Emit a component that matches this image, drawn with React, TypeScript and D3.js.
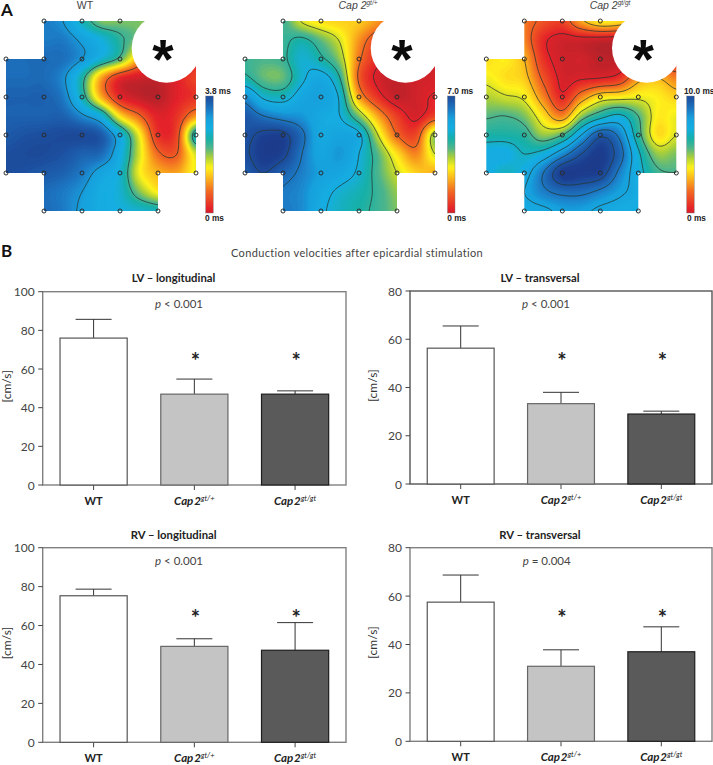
import React, { useMemo } from "react";
import * as d3 from "d3";

// ---- Data: activation maps, sampled at half electrode spacing (0 = earliest, 100 = latest)
const mapWT = [
  [88,88,85,80,65,52,52,52,52,52,52],
  [88,88,85,85,78,70,60,50,30,20,15],
  [88,88,88,87,80,68,55,30,10,8,10],
  [88,88,88,82,62,30,10,5,3,8,15],
  [90,90,90,85,64,32,10,3,1,8,12],
  [90,90,90,90,82,70,38,22,8,12,28],
  [92,94,95,96,96,92,72,42,12,16,65],
  [95,96,96,94,90,88,72,45,22,20,45],
  [95,94,92,90,85,76,68,42,32,30,42],
  [92,90,88,85,80,72,68,52,40,38,42],
  [90,90,88,85,78,72,70,68,65,60,55],
];
const mapHet = [
  [60,60,58,44,38,36,35,28,20,15,12],
  [58,58,58,62,54,44,28,15,8,6,6],
  [58,56,58,68,62,50,24,10,5,5,6],
  [62,54,54,68,74,60,20,6,3,5,6],
  [82,68,66,75,78,68,30,12,3,5,9],
  [92,86,82,80,74,70,52,30,14,6,15],
  [94,98,98,88,74,76,72,45,22,16,50],
  [95,100,98,86,76,80,70,55,38,26,45],
  [92,96,90,84,78,75,68,56,45,36,32],
  [90,88,85,82,74,68,64,58,50,44,40],
  [88,86,85,82,72,66,62,58,52,48,44],
];
const mapHom = [
  [40,38,25,18,15,30,40,38,30,20,15],
  [40,38,26,10,5,5,4,3,3,5,8],
  [38,40,32,12,5,5,2,2,3,10,10],
  [42,38,35,18,6,7,8,12,28,32,25],
  [48,45,42,26,10,26,38,40,42,40,36],
  [55,56,52,38,26,50,62,68,56,40,42],
  [62,62,60,50,56,76,92,84,60,38,44],
  [72,72,66,70,82,94,100,90,68,50,52],
  [72,66,72,86,100,100,98,84,70,58,56],
  [72,70,76,84,88,88,84,78,72,62,60],
  [70,70,72,74,78,78,74,72,70,64,62],
];
const levelsWT = [20, 58, 80];
const levelsHet = [8, 22, 45, 60, 70, 86, 96];
const levelsHom = [8, 20, 32, 44, 56, 66, 76, 86, 94];

const colorDomain = [0, 8, 22, 32, 40, 48, 55, 62, 70, 78, 84, 90, 100];
const colorRange = ["#b5222b","#e4202a","#f26a22","#fbb81c","#fff21a","#a9cf3a","#4fb58a","#17b0a8","#12aee2","#18a0dc","#1c7cc6","#1c5fae","#1f3a8a"];

// ---- Data: bar charts
const groups = ["WT", "het", "hom"];
const lvLongMean = [76, 47, 47];
const lvLongTop = [85.7, 54.8, 48.7];
const lvTransMean = [56.3, 33.3, 29];
const lvTransTop = [65.5, 38, 30.2];
const rvLongMean = [75.3, 49.3, 47.3];
const rvLongTop = [78.7, 53.2, 61.5];
const rvTransMean = [57.5, 31, 37];
const rvTransTop = [68.7, 37.8, 47.3];
const sigGroups = ["het", "hom"];

const FONT = "Lato, 'Open Sans', sans-serif";
const ARIAL = "'Liberation Sans', Arial, sans-serif";
const color = d3.scaleLinear<string>().domain(colorDomain).range(colorRange).interpolate(d3.interpolateRgb);

function upsample(grid: number[][], f: number) {
  const n = grid.length, m = grid[0].length;
  const W = (m - 1) * f + 1, H = (n - 1) * f + 1;
  const out = new Array(W * H);
  const cr = (p0: number, p1: number, p2: number, p3: number, t: number) =>
    0.5 * (2 * p1 + (p2 - p0) * t + (2 * p0 - 5 * p1 + 4 * p2 - p3) * t * t + (3 * p1 - p0 - 3 * p2 + p3) * t * t * t);
  const at = (r: number, c: number) => grid[Math.max(0, Math.min(n - 1, r))][Math.max(0, Math.min(m - 1, c))];
  for (let j = 0; j < H; j++) {
    const rf = j / f, r = Math.min(n - 2, Math.floor(rf)), tr = rf - r;
    for (let i = 0; i < W; i++) {
      const cf = i / f, c = Math.min(m - 2, Math.floor(cf)), tc = cf - c;
      const rows = [-1, 0, 1, 2].map((d) => cr(at(r + d, c - 1), at(r + d, c), at(r + d, c + 1), at(r + d, c + 2), tc));
      out[j * W + i] = Math.max(0, Math.min(100, cr(rows[0], rows[1], rows[2], rows[3], tr)));
    }
  }
  return { values: out, W, H };
}

const TOPS = [21, 59, 97, 135, 173, 211];
const electrodeRows: [number, number[]][] = [
  [0, [1, 2, 3]],
  [1, [0, 1, 2, 3]],
  [2, [0, 1, 2, 3, 4, 5]],
  [3, [0, 1, 2, 3, 4, 5]],
  [4, [0, 1, 2, 3, 4, 5]],
  [5, [1, 2, 3, 4]],
];

function HeatMap({ id, x0, grid, levels, barX, maxLabel, maxLabelX, zeroX }: any) {
  const f = 8;
  const { values, W, H } = useMemo(() => upsample(grid, f), [grid]);
  const sx = d3.scaleLinear().domain([0, W - 1]).range([x0, x0 + 190]);
  const sy = d3.scaleLinear().domain([0, H - 1]).range([21, 211]);
  const path = d3.geoPath(
    d3.geoTransform({
      point(this: any, a: number, b: number) {
        this.stream.point(sx(a - 0.5), sy(b - 0.5));
      },
    })
  );
  const fills = useMemo(
    () => d3.contours().size([W, H]).smooth(true).thresholds(d3.range(0, 100.5, 1))(values),
    [values]
  );
  const lines = useMemo(() => d3.contours().size([W, H]).smooth(true).thresholds(levels)(values), [values]);
  const cross = [
    [38, 0], [152, 0], [152, 38], [190, 38], [190, 152], [152, 152], [152, 190], [38, 190], [38, 152], [0, 152], [0, 38], [38, 38],
  ].map(([a, b]) => `${x0 + a},${21 + b}`).join(" ");
  const stops = d3.range(95, 4, -2);
  const barOffset = d3.scaleLinear().domain([95, 5]).range([0, 1]);
  return (
    <g>
      <defs>
        <clipPath id={`clip-${id}`}><polygon points={cross} /></clipPath>
        <linearGradient id={`bar-${id}`} x1="0" y1="0" x2="0" y2="1">
          {stops.map((s) => (
            <stop key={s} offset={barOffset(s)} stopColor={color(s)} />
          ))}
        </linearGradient>
      </defs>
      <g clipPath={`url(#clip-${id})`}>
        <g filter="url(#soft)">
          <rect x={x0} y={21} width={190} height={190} fill={color(0)} />
          {fills.map((c, i) => (
            <path key={i} d={path(c) || ""} fill={color(c.value)} />
          ))}
          {lines.map((c, i) => (
            <path key={i} d={path(c) || ""} fill="none" stroke="#25362f" strokeWidth={0.9} strokeOpacity={0.85} />
          ))}
        </g>
      </g>
      <circle cx={x0 + 160.4} cy={48} r={34.7} fill="#fff" />
      <text x={x0 + 157} y={78} textAnchor="middle" fontFamily={ARIAL} fontWeight={700} fontSize={55} fill="#0b0b0b">*</text>
      {electrodeRows.map(([r, cols]) =>
        cols.map((c) => (
          <circle key={`${r}-${c}`} cx={x0 + c * 38} cy={TOPS[r]} r={2} fill="none" stroke="#2b2b2b" strokeWidth={1} />
        ))
      )}
      <rect x={barX} y={96} width={7.5} height={117} fill={`url(#bar-${id})`} stroke="#777" strokeWidth={0.4} />
      <text x={maxLabelX} y={93.5} fontFamily={ARIAL} fontWeight={700} fontSize={8.3} fill="#222">{maxLabel}</text>
      <text x={zeroX} y={221} fontFamily={ARIAL} fontWeight={700} fontSize={8.3} fill="#222">0 ms</text>
    </g>
  );
}

function GroupLabel({ g, x, y }: { g: string; x: number; y: number }) {
  if (g === "WT")
    return <text x={x} y={y} textAnchor="middle" fontFamily={FONT} fontWeight={700} fontSize={11} fill="#222">WT</text>;
  return (
    <text x={x} y={y} textAnchor="middle" fontFamily={FONT} fontStyle="italic" fontWeight={700} fontSize={11.5} fill="#222">
      Cap<tspan dx={0.8}>2</tspan>
      <tspan fontSize={7.5} dy={-4} fontWeight={400}>{g === "het" ? "gt/+" : "gt/gt"}</tspan>
    </text>
  );
}

function BarPanel({ left, right, top, bottom, max, mean, upper, title, pText, pVal, titleX, titleY, pX, pY, starY, axisLabelX, frame }: any) {
  const x = d3.scaleBand<string>().domain(groups).range([left, right]).paddingInner(1 / 3).paddingOuter(0.172);
  const y = d3.scaleLinear().domain([0, max]).range([bottom, top]);
  const ticks = y.ticks(max === 100 ? 5 : 4);
  const fills = ["#ffffff", "#c4c4c4", "#5a5a5a"];
  const strokes = ["#555", "#666", "#1e1e1e"];
  return (
    <g>
      <rect x={left} y={top} width={right - left} height={bottom - top} fill="none" stroke={frame} strokeWidth={1.4} />
      {ticks.map((t) => (
        <g key={t}>
          <line x1={left - 4.5} x2={left} y1={y(t)} y2={y(t)} stroke="#444" strokeWidth={1} />
          <text x={left - 8} y={y(t) + 4.5} textAnchor="end" fontFamily={FONT} fontSize={12} fill="#444">{t}</text>
        </g>
      ))}
      {groups.map((g, i) => {
        const cx = x(g)! + x.bandwidth() / 2;
        return (
          <g key={g}>
            <line x1={cx} x2={cx} y1={bottom} y2={bottom + 5} stroke="#444" strokeWidth={1} />
            <line x1={cx} x2={cx} y1={y(upper[i])} y2={y(mean[i])} stroke="#333" strokeWidth={1} />
            <line x1={cx - 18} x2={cx + 18} y1={y(upper[i])} y2={y(upper[i])} stroke="#333" strokeWidth={1} />
            <rect x={x(g)} y={y(mean[i])} width={x.bandwidth()} height={bottom - y(mean[i])} fill={fills[i]} stroke={strokes[i]} strokeWidth={1.2} />
            <GroupLabel g={g} x={cx} y={bottom + 19.5} />
          </g>
        );
      })}
      {sigGroups.map((g) => {
        const cx = x(g)! + x.bandwidth() / 2;
        return <text key={g} x={cx + 1} y={starY} textAnchor="middle" fontFamily={FONT} fontWeight={700} fontSize={22} fill="#222">*</text>;
      })}
      <text x={titleX} y={titleY} textAnchor="middle" fontFamily={FONT} fontWeight={700} fontSize={11.3} fill="#222">{title}</text>
      <text x={pX} y={pY} textAnchor="middle" fontFamily={FONT} fontSize={11.5} fill="#444">
        <tspan fontStyle="italic">p</tspan> {pText} {pVal}
      </text>
      <text transform={`translate(${axisLabelX},${(top + bottom) / 2 - 2}) rotate(-90)`} textAnchor="middle" fontFamily={FONT} fontSize={12} fill="#333">[cm/s]</text>
    </g>
  );
}

export default function App() {
  return (
    <svg width={713} height={765} viewBox="0 0 713 765" style={{ position: "absolute", left: 0, top: 0, display: "block" }}>
      <defs>
        <filter id="soft" x="-5%" y="-5%" width="110%" height="110%"><feGaussianBlur stdDeviation={0.5} /></filter>
      </defs>
      <rect width={713} height={765} fill="#fff" />
      <text x={1} y={16} fontFamily={FONT} fontWeight={700} fontSize={17} fill="#111">A</text>
      <text x={1} y={257} fontFamily={FONT} fontWeight={700} fontSize={17} fill="#111">B</text>
      <text x={85} y={8.5} textAnchor="middle" fontFamily={ARIAL} fontSize={10.5} fill="#444">WT</text>
      <text x={358} y={8.5} textAnchor="middle" fontFamily={ARIAL} fontStyle="italic" fontSize={10.5} fill="#444">
        Cap 2<tspan fontSize={6.5} dy={-3.5}>gt/+</tspan>
      </text>
      <text x={610} y={8.5} textAnchor="middle" fontFamily={ARIAL} fontStyle="italic" fontSize={10.5} fill="#444">
        Cap 2<tspan fontSize={6.5} dy={-3.5}>gt/gt</tspan>
      </text>
      <HeatMap id="a" x0={6} grid={mapWT} levels={levelsWT} barX={205.7} maxLabel="3.8 ms" maxLabelX={205} zeroX={205} />
      <HeatMap id="b" x0={245} grid={mapHet} levels={levelsHet} barX={447.5} maxLabel="7.0 ms" maxLabelX={447.3} zeroX={447.3} />
      <HeatMap id="c" x0={486.3} grid={mapHom} levels={levelsHom} barX={686.7} maxLabel="10.0 ms" maxLabelX={684} zeroX={687} />
      <text x={357} y={257} textAnchor="middle" fontFamily={FONT} fontSize={11} letterSpacing={0.35} fill="#444">Conduction velocities after epicardial stimulation</text>
      <BarPanel left={42.7} right={346} top={291.7} bottom={485} max={100} mean={lvLongMean} upper={lvLongTop} title="LV – longitudinal" pText="<" pVal="0.001" titleX={173.5} titleY={282} pX={179} pY={308} starY={369} axisLabelX={10.5} frame="#808080" />
      <BarPanel left={410} right={712} top={291} bottom={484} max={80} mean={lvTransMean} upper={lvTransTop} title="LV – transversal" pText="<" pVal="0.001" titleX={540} titleY={281.7} pX={546} pY={308} starY={369} axisLabelX={377} frame="#555" />
      <BarPanel left={42.7} right={346} top={547.7} bottom={742.3} max={100} mean={rvLongMean} upper={rvLongTop} title="RV – longitudinal" pText="<" pVal="0.001" titleX={173.7} titleY={539} pX={179} pY={565} starY={626} axisLabelX={10.5} frame="#808080" />
      <BarPanel left={410} right={712} top={547.7} bottom={741.3} max={80} mean={rvTransMean} upper={rvTransTop} title="RV – transversal" pText="=" pVal="0.004" titleX={540} titleY={539} pX={546.7} pY={565} starY={626} axisLabelX={377} frame="#808080" />
    </svg>
  );
}
